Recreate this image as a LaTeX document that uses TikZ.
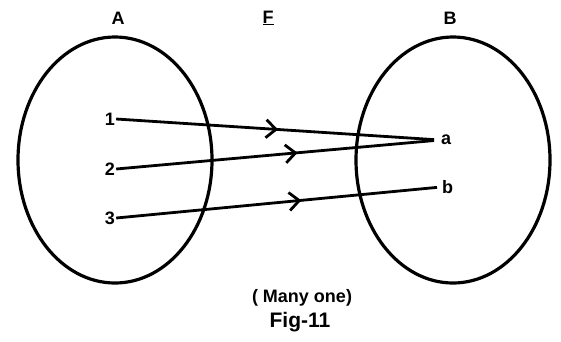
\documentclass[tikz,border=0pt]{standalone}
\usepackage{fontspec}
\setmainfont{Liberation Sans}
\usepackage{tikz}
\usetikzlibrary{arrows.meta,positioning,calc,decorations.markings}

\tikzset{
  setline/.style={line width=3.2pt}, % 集合を表す楕円の線
  mapline/.style={line width=2.8pt,postaction={decorate},
    decoration={markings,mark=at position #1 with {\arrow{Straight Barb[length=10pt,width=18pt,line width=2.8pt]}}}}, % 対応を表す矢印付きの線
  elem/.style={inner sep=1pt,font=\bfseries\fontsize{18}{21}\selectfont}, % 要素のラベル
}

\begin{document}
\begin{tikzpicture}[x=1pt,y=-1pt]
  \useasboundingbox (0,0) rectangle (561,341); % 画像全体の大きさ
  \draw[setline] (115,160) ellipse [x radius=97,y radius=123]; % 集合Aの楕円
  \draw[setline] (453,160) ellipse [x radius=97,y radius=123]; % 集合Bの楕円
  \node[elem] (setA) at (118,18) {A}; % 集合Aの名前
  \node[elem] (setB) at (450,18) {B}; % 集合Bの名前
  \node[elem] (map) at (268,18) {\underline{F}}; % 写像の名前
  \node[elem] (one) at (110,119) {1}; % Aの要素1
  \node[elem] (two) at (110,169) {2}; % Aの要素2
  \node[elem] (three) at (110,218) {3}; % Aの要素3
  \node[elem,anchor=west] (a) at (440,140) {a}; % Bの要素a
  \node[elem,anchor=west] (b) at (441,187) {b}; % Bの要素b
  \draw[mapline=0.5,shorten >=6pt] (one.east) -- (a.west); % 1からaへの対応
  \draw[mapline=0.56,shorten >=6pt] (two.east) -- (a.west); % 2からaへの対応
  \draw[mapline=0.57,shorten >=4pt] (three.east) -- (b.west); % 3からbへの対応
  \node[elem] (kind) at (302,298) {( Many one)}; % 写像の種類
  \node[elem,font=\bfseries\fontsize{21}{24}\selectfont] (fig) at (300,322) {Fig-11}; % 図の番号
\end{tikzpicture}
\end{document}
